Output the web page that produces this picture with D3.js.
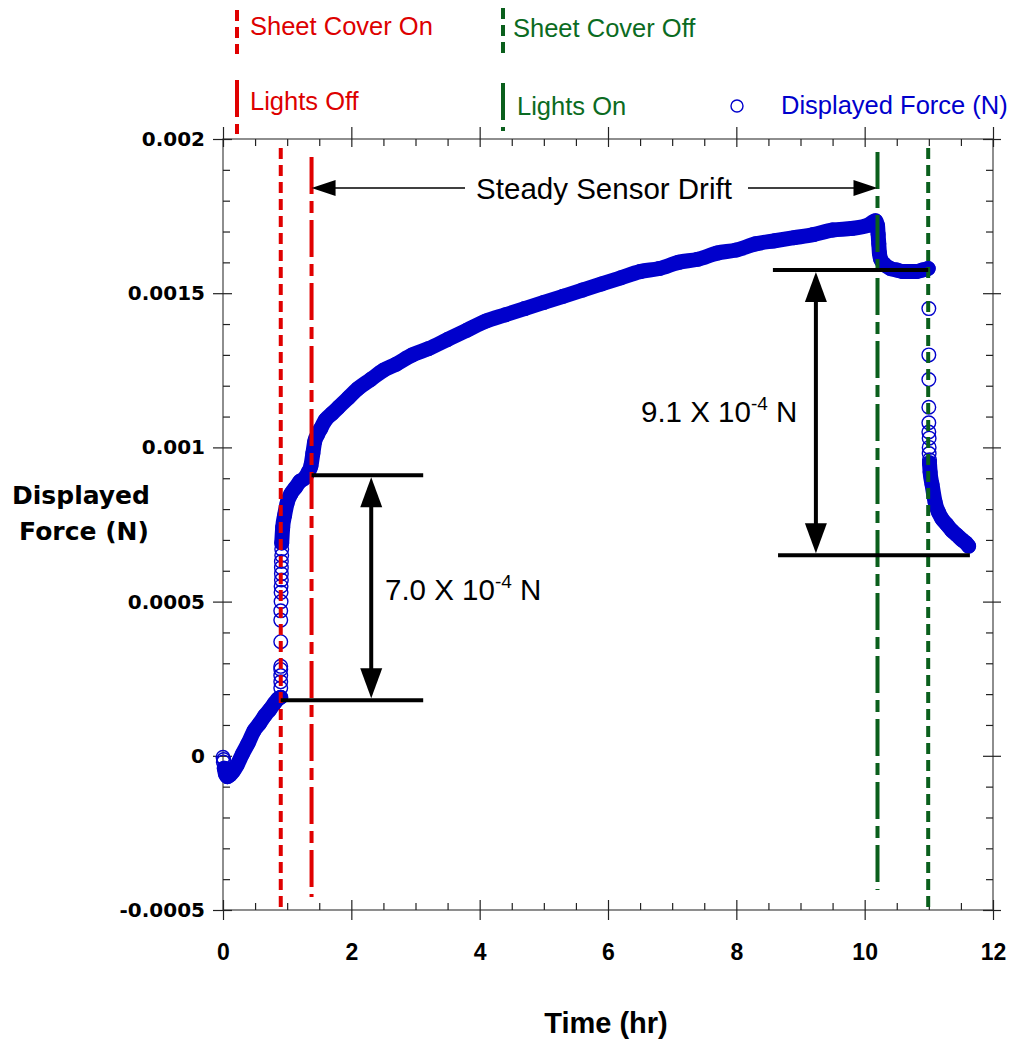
<!DOCTYPE html>
<html>
<head>
<meta charset="utf-8">
<script src="https://cdn.jsdelivr.net/npm/d3@7"></script>
<style>
  body { margin: 0; background: #fff; }
  svg { display: block; }
</style>
</head>
<body>
<div id="chart"></div>
<script>
// ---- data ----
// start of run (few loose points)
var startTime = [0.0, 0.005, 0.01];
var startForce = [-0.000005, -0.00002, -0.000012];

// dense band before sheet cover on
var bandATime = [0.02, 0.04, 0.07, 0.11, 0.16, 0.22, 0.30, 0.39, 0.48, 0.57, 0.65, 0.73, 0.80, 0.86, 0.90];
var bandAForce = [-0.00004, -0.00006, -0.000068, -0.000062, -0.00005, -0.00003, 0.000005, 0.00004, 0.00008, 0.000105, 0.00013, 0.00015, 0.00017, 0.000185, 0.00019];

// sparse jump when the sheet cover goes on
var jumpATime = [0.90, 0.90, 0.90, 0.90, 0.90, 0.90, 0.90, 0.90, 0.905, 0.905, 0.905, 0.91, 0.91, 0.91, 0.91, 0.915, 0.915];
var jumpAForce = [0.00022, 0.00024, 0.00026, 0.00028, 0.00029, 0.00037, 0.00044, 0.00047, 0.0005, 0.00053, 0.00055, 0.00057, 0.00059, 0.00061, 0.00063, 0.00065, 0.00067];

// dense band: covered, then steady drift, then lights on
var bandBTime = [0.915, 0.93, 0.96, 1.00, 1.06, 1.13, 1.20, 1.27, 1.33, 1.37, 1.40, 1.43, 1.47, 1.52, 1.6, 1.7, 1.8, 1.95, 2.1, 2.3, 2.5, 2.7, 2.95, 3.2, 3.5, 3.8, 4.1, 4.4, 4.7, 5.0, 5.3, 5.6, 5.9, 6.2, 6.5, 6.8, 7.1, 7.4, 7.7, 8.0, 8.3, 8.6, 8.9, 9.2, 9.5, 9.8, 10.05, 10.17,
                 10.2, 10.21, 10.22, 10.23, 10.25, 10.3, 10.4, 10.5, 10.6, 10.7, 10.8, 10.9, 10.99];
var bandBForce = [0.00069, 0.00074, 0.00078, 0.00082, 0.00085, 0.00087, 0.00089, 0.0009, 0.00092, 0.00094, 0.00098, 0.00102, 0.00104, 0.00106, 0.00109, 0.00111, 0.00113, 0.00116, 0.00119, 0.00122, 0.00125, 0.00127, 0.0013, 0.00132, 0.00135, 0.00138, 0.00141, 0.00143, 0.00145, 0.00147, 0.00149, 0.00151, 0.00153, 0.00155, 0.00157, 0.00158, 0.0016, 0.00161, 0.00163, 0.00164, 0.00166, 0.00167, 0.00168, 0.00169, 0.001705, 0.00171, 0.00172, 0.001735,
                  0.00172, 0.00169, 0.00166, 0.00163, 0.00161, 0.001595, 0.00158, 0.001575, 0.00157, 0.00157, 0.00157, 0.001575, 0.00158];

// sparse jump when the sheet cover comes off
var jumpBTime = [11.0, 11.0, 11.0, 11.0, 11.0, 11.0, 11.005, 11.005, 11.005, 11.01];
var jumpBForce = [0.00145, 0.0013, 0.00122, 0.00113, 0.00108, 0.00105, 0.00103, 0.001, 0.00098, 0.00096];

// dense band at the end
var bandCTime = [11.01, 11.02, 11.05, 11.1, 11.15, 11.2, 11.28, 11.36, 11.44, 11.52, 11.58, 11.62];
var bandCForce = [0.00095, 0.00092, 0.00088, 0.00082, 0.00079, 0.00077, 0.00075, 0.00073, 0.000715, 0.0007, 0.00069, 0.00068];

// events (hr)
var eventNames = ["Sheet Cover On", "Lights Off", "Lights On", "Sheet Cover Off"];
var eventTime = [0.9, 1.38, 10.2, 10.99];

// step annotations
var stepLabelsMain = ["7.0 X 10", "9.1 X 10"];
var stepLow = [0.00018, 0.00065];
var stepHigh = [0.00091, 0.001575];

// axis ticks
var xTicks = [0, 2, 4, 6, 8, 10, 12];
var xMinor = d3.range(0, 12.01, 0.5).filter(function(d) { return d % 2 !== 0; });
var yTicks = [-0.0005, 0, 0.0005, 0.001, 0.0015, 0.002];
var yTickLabels = ["-0.0005", "0", "0.0005", "0.001", "0.0015", "0.002"];
var yMinor = d3.range(-5, 20.5, 1).filter(function(d) { return d % 5 !== 0; }).map(function(d) { return d * 0.0001; });

var width = 1013, height = 1042;
var red = "#e00000", green = "#0a5f1c", blue = "#0000cc";

var svg = d3.select("#chart").append("svg")
    .attr("width", width)
    .attr("height", height);

var x = d3.scaleLinear().domain([0, 12]).range([223, 993]);
var y = d3.scaleLinear().domain([-0.0005, 0.002]).range([910, 139]);

// frame
svg.append("rect")
    .attr("x", x(0)).attr("y", y(0.002))
    .attr("width", x(12) - x(0)).attr("height", y(-0.0005) - y(0.002))
    .attr("fill", "none").attr("stroke", "#444").attr("stroke-width", 1.2);

function tickLayer(axis, tx, ty) {
    var g = svg.append("g").attr("transform", "translate(" + tx + "," + ty + ")").call(axis);
    g.select(".domain").remove();
    g.selectAll(".tick line").attr("stroke", "#222").attr("stroke-width", 1.2);
    return g;
}

// left
var gl = tickLayer(d3.axisLeft(y).tickValues(yTicks).tickFormat(function(d, i) { return yTickLabels[i]; }).tickSize(10).tickPadding(8), x(0), 0);
gl.selectAll("text").attr("font-family", "'DejaVu Sans', Verdana, sans-serif").attr("font-weight", "bold").attr("font-size", 20).attr("fill", "#000");
tickLayer(d3.axisLeft(y).tickValues(yTicks).tickFormat("").tickSize(-9), x(0), 0);
tickLayer(d3.axisLeft(y).tickValues(yMinor).tickFormat("").tickSize(-7), x(0), 0);
// right
tickLayer(d3.axisRight(y).tickValues(yTicks).tickFormat("").tickSize(8), x(12), 0);
tickLayer(d3.axisRight(y).tickValues(yTicks).tickFormat("").tickSize(-10), x(12), 0);
tickLayer(d3.axisRight(y).tickValues(yMinor).tickFormat("").tickSize(-7), x(12), 0);
// bottom
var gb = tickLayer(d3.axisBottom(x).tickValues(xTicks).tickFormat(d3.format("d")).tickSize(10).tickPadding(24), 0, y(-0.0005));
gb.selectAll("text").attr("font-family", "'Liberation Sans', Arial, sans-serif").attr("font-weight", "bold").attr("font-size", 23).attr("fill", "#000");
tickLayer(d3.axisBottom(x).tickValues(xTicks).tickFormat("").tickSize(-10), 0, y(-0.0005));
tickLayer(d3.axisBottom(x).tickValues(xMinor).tickFormat("").tickSize(-7), 0, y(-0.0005));
// top
tickLayer(d3.axisTop(x).tickValues(xTicks).tickFormat("").tickSize(12), 0, y(0.002));
tickLayer(d3.axisTop(x).tickValues(xTicks).tickFormat("").tickSize(-8), 0, y(0.002));
tickLayer(d3.axisTop(x).tickValues(xMinor).tickFormat("").tickSize(-7), 0, y(0.002));

// axis titles
var yt = svg.append("text")
    .attr("text-anchor", "middle")
    .attr("font-family", "'DejaVu Sans', Verdana, sans-serif")
    .attr("font-weight", "bold").attr("font-size", 25);
yt.append("tspan").attr("x", 81).attr("y", 504).text("Displayed");
yt.append("tspan").attr("x", 84).attr("y", 540).text("Force (N)");

svg.append("text")
    .attr("x", 606).attr("y", 1033)
    .attr("text-anchor", "middle")
    .attr("font-family", "'Liberation Sans', Arial, sans-serif")
    .attr("font-weight", "bold").attr("font-size", 29)
    .text("Time (hr)");

// ---- data ----
var pts = function(ts, fs) { return ts.map(function(t, i) { return [t, fs[i]]; }); };
var line = d3.line()
    .curve(d3.curveMonotoneX)
    .x(function(d) { return x(d[0]); })
    .y(function(d) { return y(d[1]); });

var bands = [pts(bandATime, bandAForce), pts(bandBTime, bandBForce), pts(bandCTime, bandCForce)];
var loose = pts(startTime, startForce).concat(pts(jumpATime, jumpAForce), pts(jumpBTime, jumpBForce));

var dataG = svg.append("g");
dataG.selectAll(".band").data(bands).enter().append("path")
    .attr("class", "band")
    .attr("d", line)
    .attr("fill", "none")
    .attr("stroke", blue)
    .attr("stroke-width", 15)
    .attr("stroke-linecap", "round")
    .attr("stroke-linejoin", "round");

dataG.selectAll(".pt").data(d3.merge(bands).concat(loose)).enter().append("circle")
    .attr("class", "pt")
    .attr("cx", function(d) { return x(d[0]); })
    .attr("cy", function(d) { return y(d[1]); })
    .attr("r", 6.8)
    .attr("fill", "none")
    .attr("stroke", blue)
    .attr("stroke-width", 1.4);

// ---- event lines ----
var shortDash = "11,6", dashDot = "37,7,12,7";
var eventStyle = [
    { c: red, dash: shortDash, y0: 148, y1: 910 },
    { c: red, dash: dashDot, y0: 157, y1: 897 },
    { c: green, dash: dashDot, y0: 152, y1: 890 },
    { c: green, dash: shortDash, y0: 148, y1: 910 }
];
svg.append("g").selectAll("line").data(eventTime).enter().append("line")
    .attr("x1", function(d) { return x(d); })
    .attr("x2", function(d) { return x(d); })
    .attr("y1", function(d, i) { return eventStyle[i].y0; })
    .attr("y2", function(d, i) { return eventStyle[i].y1; })
    .attr("stroke", function(d, i) { return eventStyle[i].c; })
    .attr("stroke-width", 4)
    .attr("stroke-dasharray", function(d, i) { return eventStyle[i].dash; });

// ---- legend ----
var legend = [
    { name: eventNames[0], c: red, tc: "#dd0000", dash: shortDash, lx: 237, y0: 10, y1: 54, tx: 250, ty: 35 },
    { name: eventNames[1], c: red, tc: "#dd0000", dash: dashDot, lx: 237, y0: 80, y1: 134, tx: 250, ty: 110 },
    { name: eventNames[3], c: green, tc: "#0b6b22", dash: shortDash, lx: 503, y0: 8, y1: 53, tx: 513, ty: 37 },
    { name: eventNames[2], c: green, tc: "#0b6b22", dash: dashDot, lx: 503, y0: 83, y1: 131, tx: 517, ty: 115 }
];
var lg = svg.append("g").selectAll("g").data(legend).enter().append("g");
lg.append("line")
    .attr("x1", function(d) { return d.lx; }).attr("x2", function(d) { return d.lx; })
    .attr("y1", function(d) { return d.y0; }).attr("y2", function(d) { return d.y1; })
    .attr("stroke", function(d) { return d.c; })
    .attr("stroke-width", 4)
    .attr("stroke-dasharray", function(d) { return d.dash; });
lg.append("text")
    .attr("x", function(d) { return d.tx; }).attr("y", function(d) { return d.ty; })
    .attr("font-family", "'Liberation Sans', Arial, sans-serif")
    .attr("font-size", 25.5)
    .attr("fill", function(d) { return d.tc; })
    .text(function(d) { return d.name; });

svg.append("circle").attr("cx", 737).attr("cy", 106).attr("r", 6)
    .attr("fill", "none").attr("stroke", blue).attr("stroke-width", 1.4);
svg.append("text").attr("x", 781).attr("y", 114)
    .attr("font-family", "'Liberation Sans', Arial, sans-serif")
    .attr("font-size", 25.5).attr("fill", blue)
    .text("Displayed Force (N)");

// ---- annotations ----
var ann = svg.append("g");

// steady drift arrow
var driftY = 188;
ann.append("text").attr("x", 604).attr("y", 199)
    .attr("text-anchor", "middle")
    .attr("font-family", "'Liberation Sans', Arial, sans-serif")
    .attr("font-size", 29.5)
    .text("Steady Sensor Drift");
ann.append("line").attr("x1", 465).attr("x2", x(eventTime[1]) + 20)
    .attr("y1", driftY).attr("y2", driftY).attr("stroke", "#000").attr("stroke-width", 1.5);
ann.append("line").attr("x1", 748).attr("x2", x(eventTime[2]) - 20)
    .attr("y1", driftY).attr("y2", driftY).attr("stroke", "#000").attr("stroke-width", 1.5);
function tri(tipX, tipY, dir, len, half) {
    // dir: 1 right, -1 left
    return "M" + tipX + "," + tipY + "L" + (tipX - dir * len) + "," + (tipY - half) + "L" + (tipX - dir * len) + "," + (tipY + half) + "Z";
}
ann.append("path").attr("d", tri(x(eventTime[1]), driftY, -1, 24, 8));
ann.append("path").attr("d", tri(x(eventTime[2]), driftY, 1, 24, 8));

// step bars
var stepBars = [
    { lowX: [0.9, 3.12], highX: [1.38, 3.12], arrowT: 2.31, tx: 385, ty: 600 },
    { lowX: [8.65, 11.64], highX: [8.57, 10.99], arrowT: 9.24, tx: 641, ty: 422 }
];
stepBars.forEach(function(s, i) {
    ann.append("line").attr("x1", x(s.lowX[0])).attr("x2", x(s.lowX[1]))
        .attr("y1", y(stepLow[i])).attr("y2", y(stepLow[i]))
        .attr("stroke", "#000").attr("stroke-width", 4);
    ann.append("line").attr("x1", x(s.highX[0])).attr("x2", x(s.highX[1]))
        .attr("y1", y(stepHigh[i])).attr("y2", y(stepHigh[i]))
        .attr("stroke", "#000").attr("stroke-width", 4);
    var ax = x(s.arrowT), yTop = y(stepHigh[i]) + 2, yBot = y(stepLow[i]) - 2;
    ann.append("line").attr("x1", ax).attr("x2", ax)
        .attr("y1", yTop + 20).attr("y2", yBot - 20)
        .attr("stroke", "#000").attr("stroke-width", 4);
    ann.append("path").attr("d", "M" + ax + "," + yTop + "L" + (ax - 11) + "," + (yTop + 30) + "L" + (ax + 11) + "," + (yTop + 30) + "Z");
    ann.append("path").attr("d", "M" + ax + "," + yBot + "L" + (ax - 11) + "," + (yBot - 30) + "L" + (ax + 11) + "," + (yBot - 30) + "Z");

    var t = ann.append("text").attr("x", s.tx).attr("y", s.ty)
        .attr("font-family", "'Liberation Sans', Arial, sans-serif")
        .attr("font-size", 29.5);
    t.append("tspan").text(stepLabelsMain[i]);
    t.append("tspan").attr("dy", -12).attr("font-size", 19).text("-4");
    t.append("tspan").attr("dy", 12).text(" N");
});
</script>
</body>
</html>
